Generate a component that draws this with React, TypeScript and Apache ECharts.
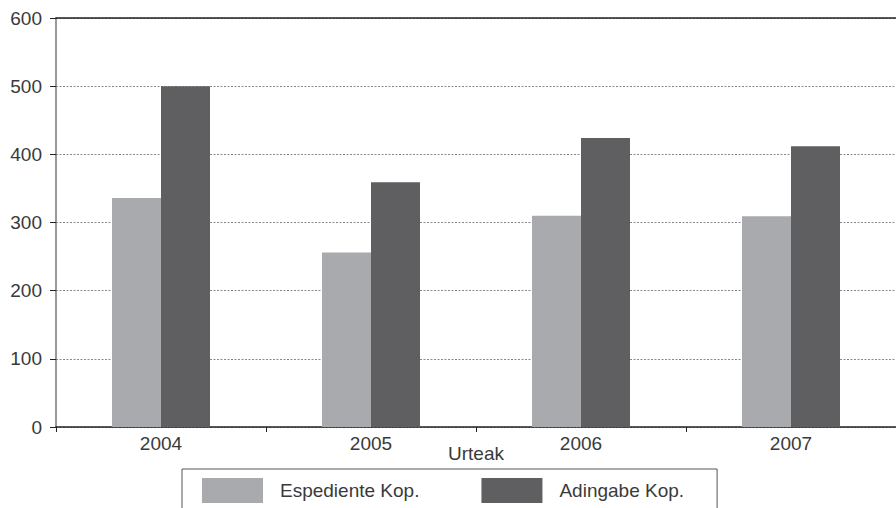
import React, { useEffect, useRef } from "react";
import * as echarts from "echarts";

const years = ["2004", "2005", "2006", "2007"];
const espediente = [336, 256, 310, 309];
const adingabe = [500, 359, 424, 412];
const seriesNames = ["Espediente Kop.", "Adingabe Kop."];
const axisName = "Urteak";

export default function App() {
  const ref = useRef<HTMLDivElement>(null);
  useEffect(() => {
    if (!ref.current) return;
    const chart = echarts.init(ref.current, undefined, { renderer: "svg" });
    const font = "Liberation Sans";
    const fs = 19;
    const tc = "#3a3a3a";
    chart.setOption({
      animation: false,
      backgroundColor: "#ffffff",
      textStyle: { fontFamily: font },
      grid: { left: 56, top: 18, bottom: 81, right: -5, containLabel: false },
      legend: {
        left: 182,
        top: 469,
        orient: "horizontal",
        data: seriesNames,
        itemWidth: 61,
        itemHeight: 25,
        itemGap: 62,
        padding: [9, 33, 12, 20],
        borderColor: "#555",
        borderWidth: 1,
        icon: "rect",
        textStyle: {
          fontFamily: font,
          fontSize: fs,
          color: tc,
          padding: [0, 0, 0, 12],
        },
      },
      xAxis: [
        {
          type: "category",
          data: years,
          position: "bottom",
          name: axisName,
          nameLocation: "middle",
          nameGap: 17,
          nameMoveOverlap: false,
          nameTextStyle: { fontFamily: font, fontSize: fs, color: tc },
          axisLine: { show: true, lineStyle: { color: "#222", width: 1.5 } },
          axisTick: { show: true, inside: false, length: 5, lineStyle: { color: "#222" } },
          axisLabel: { fontFamily: font, fontSize: fs, color: tc, margin: 7 },
          splitLine: { show: false },
        },
        {
          type: "category",
          data: years,
          position: "top",
          axisLine: { show: true, lineStyle: { color: "#222", width: 1.5 } },
          axisTick: { show: false },
          axisLabel: { show: false },
          splitLine: { show: false },
        },
      ],
      yAxis: {
        type: "value",
        min: 0,
        max: 600,
        interval: 100,
        axisLine: { show: true, lineStyle: { color: "#777", width: 1.5 } },
        axisTick: { show: true, inside: false, length: 6, lineStyle: { color: "#222" } },
        axisLabel: { fontFamily: font, fontSize: fs, color: tc, margin: 14 },
        splitLine: { show: true, lineStyle: { color: "#888", type: [2, 1.5], width: 1 } },
      },
      series: [
        {
          name: seriesNames[0],
          type: "bar",
          data: espediente,
          barWidth: 49,
          barGap: "0%",
          itemStyle: { color: "#a9aaad" },
        },
        {
          name: seriesNames[1],
          type: "bar",
          data: adingabe,
          barWidth: 49,
          barGap: "0%",
          itemStyle: { color: "#5f5f61" },
        },
      ],
    });
    return () => chart.dispose();
  }, []);
  return <div ref={ref} style={{ width: 896, height: 508, position: "fixed", left: 0, top: 0 }} />;
}
